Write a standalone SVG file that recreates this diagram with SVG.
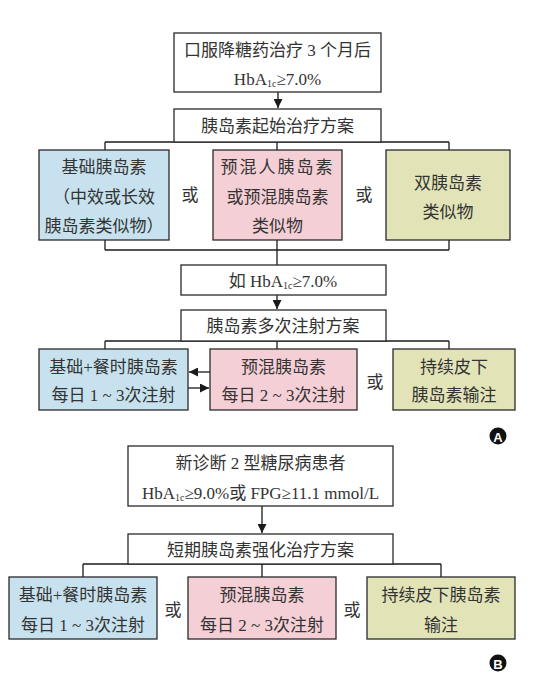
<svg xmlns="http://www.w3.org/2000/svg" width="541" height="678" viewBox="0 0 541 678">
<defs>
<marker id="ah" viewBox="0 0 10 10" refX="10" refY="5" markerWidth="9" markerHeight="9" markerUnits="userSpaceOnUse" orient="auto">
<path d="M0,0 L10,5 L0,10 Z" fill="#1a1a1a"/>
</marker>
<style>
.box{stroke:#2a2a2a;stroke-width:1.3;}
.w{fill:#ffffff;}
.b{fill:#c7e2ee;}
.p{fill:#f5cfd6;}
.g{fill:#e2e4b8;}
.t{font-family:"Liberation Serif","Noto Sans CJK SC",serif;font-size:17px;fill:#333333;text-anchor:middle;dominant-baseline:central;}
.sub{font-size:10px;}
.ln{stroke:#1a1a1a;stroke-width:1.3;fill:none;}
.lbl{font-family:"Liberation Sans","DejaVu Sans",sans-serif;font-size:13px;font-weight:bold;fill:#ffffff;text-anchor:middle;dominant-baseline:central;}
</style>
</defs>
<rect width="541" height="678" fill="#ffffff"/>

<g id="connectors">
<line class="ln" x1="278" y1="92" x2="278" y2="108" marker-end="url(#ah)"/>
<polyline class="ln" points="105,142 449,142"/>
<line class="ln" x1="105" y1="142" x2="105" y2="150"/>
<line class="ln" x1="277" y1="142" x2="277" y2="150"/>
<line class="ln" x1="449" y1="142" x2="449" y2="150"/>
<line class="ln" x1="105" y1="240" x2="105" y2="250"/>
<line class="ln" x1="277" y1="240" x2="277" y2="265"/>
<line class="ln" x1="449" y1="240" x2="449" y2="250"/>
<line class="ln" x1="105" y1="250" x2="449" y2="250"/>
<line class="ln" x1="277" y1="295" x2="277" y2="309" marker-end="url(#ah)"/>
<line class="ln" x1="105" y1="341" x2="449" y2="341"/>
<line class="ln" x1="105" y1="341" x2="105" y2="349"/>
<line class="ln" x1="277" y1="341" x2="277" y2="349"/>
<line class="ln" x1="449" y1="341" x2="449" y2="349"/>
<line class="ln" x1="210" y1="372" x2="189" y2="372" marker-end="url(#ah)"/>
<line class="ln" x1="188" y1="388" x2="209" y2="388" marker-end="url(#ah)"/>
<line class="ln" x1="262" y1="506" x2="262" y2="533" marker-end="url(#ah)"/>
<line class="ln" x1="83" y1="564" x2="441" y2="564"/>
<line class="ln" x1="83" y1="564" x2="83" y2="577"/>
<line class="ln" x1="262" y1="564" x2="262" y2="577"/>
<line class="ln" x1="441" y1="564" x2="441" y2="577"/>
</g>

<g id="a-start">
<rect class="box w" x="174" y="33" width="207" height="59"/>
<text class="t" x="277.5" y="50">口服降糖药治疗 3 个月后</text>
<text class="t" x="277.5" y="79">HbA<tspan class="sub" dy="4">1c</tspan><tspan dy="-4">≥7.0%</tspan></text>
</g>
<g id="a-init">
<rect class="box w" x="174" y="109" width="207" height="33"/>
<text class="t" x="277.5" y="126">胰岛素起始治疗方案</text>
</g>
<g id="a-basal">
<rect class="box b" x="39" y="150" width="130" height="90"/>
<text class="t" x="104" y="167">基础胰岛素</text>
<text class="t" x="104" y="197">（中效或长效</text>
<text class="t" x="104" y="226">胰岛素类似物）</text>
</g>
<text class="t" x="190" y="195">或</text>
<g id="a-premix">
<rect class="box p" x="213" y="150" width="129" height="90"/>
<text class="t" x="277.5" y="167" letter-spacing="2">预混人胰岛素</text>
<text class="t" x="277.5" y="197">或预混胰岛素</text>
<text class="t" x="277.5" y="226">类似物</text>
</g>
<text class="t" x="364" y="195">或</text>
<g id="a-dual">
<rect class="box g" x="386" y="150" width="124" height="90"/>
<text class="t" x="448" y="183">双胰岛素</text>
<text class="t" x="448" y="212">类似物</text>
</g>
<g id="a-cond">
<rect class="box w" x="181" y="265" width="205" height="30"/>
<text class="t" x="283" y="281">如 HbA<tspan class="sub" dy="4">1c</tspan><tspan dy="-4">≥7.0%</tspan></text>
</g>
<g id="a-multi">
<rect class="box w" x="181" y="310" width="205" height="31"/>
<text class="t" x="283" y="326">胰岛素多次注射方案</text>
</g>
<g id="a-basalbolus">
<rect class="box b" x="39" y="349" width="149" height="61"/>
<text class="t" x="113.5" y="367">基础+餐时胰岛素</text>
<text class="t" x="113.5" y="395">每日 1 ~ 3次注射</text>
</g>
<g id="a-premix2">
<rect class="box p" x="210" y="349" width="147" height="61"/>
<text class="t" x="283.5" y="367">预混胰岛素</text>
<text class="t" x="283.5" y="395">每日 2 ~ 3次注射</text>
</g>
<text class="t" x="375" y="382">或</text>
<g id="a-csii">
<rect class="box g" x="393" y="349" width="122" height="61"/>
<text class="t" x="454" y="367">持续皮下</text>
<text class="t" x="454" y="395">胰岛素输注</text>
</g>
<g id="label-a">
<circle cx="498" cy="436" r="8.5" fill="#111111"/>
<text class="lbl" x="498" y="437">A</text>
</g>

<g id="b-start">
<rect class="box w" x="128" y="446" width="265" height="60"/>
<text class="t" x="260.5" y="463">新诊断 2 型糖尿病患者</text>
<text class="t" x="260.5" y="493">HbA<tspan class="sub" dy="4">1c</tspan><tspan dy="-4">≥9.0%或 FPG≥11.1 mmol/L</tspan></text>
</g>
<g id="b-short">
<rect class="box w" x="128" y="534" width="265" height="30"/>
<text class="t" x="260.5" y="550">短期胰岛素强化治疗方案</text>
</g>
<g id="b-basalbolus">
<rect class="box b" x="9" y="577" width="148" height="62"/>
<text class="t" x="83" y="595">基础+餐时胰岛素</text>
<text class="t" x="83" y="625">每日 1 ~ 3次注射</text>
</g>
<text class="t" x="173" y="610">或</text>
<g id="b-premix">
<rect class="box p" x="188" y="577" width="148" height="62"/>
<text class="t" x="262" y="595">预混胰岛素</text>
<text class="t" x="262" y="625">每日 2 ~ 3次注射</text>
</g>
<text class="t" x="352" y="610">或</text>
<g id="b-csii">
<rect class="box g" x="367" y="577" width="148" height="62"/>
<text class="t" x="441" y="595">持续皮下胰岛素</text>
<text class="t" x="441" y="625">输注</text>
</g>
<g id="label-b">
<circle cx="498" cy="663" r="8.5" fill="#111111"/>
<text class="lbl" x="498" y="664">B</text>
</g>
</svg>
